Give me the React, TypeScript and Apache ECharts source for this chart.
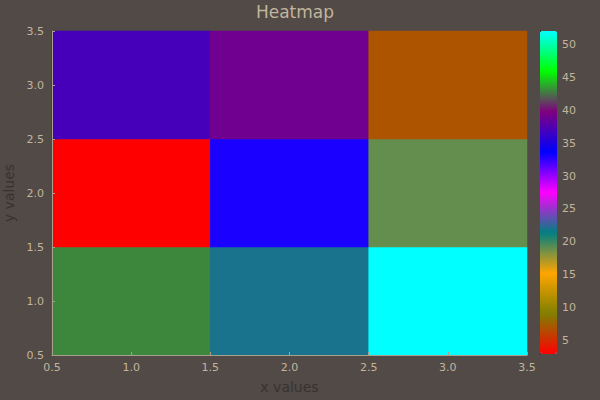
import React, { useEffect, useRef } from "react";
import * as echarts from "echarts";

const xCategories = ["1", "2", "3"];
const yCategories = ["1", "2", "3"];
// [xIndex, yIndex, value]
const cellValues: [number, number, number][] = [
  [0, 0, 43], [1, 0, 22], [2, 0, 52],
  [0, 1, 3], [1, 1, 33], [2, 1, 19],
  [0, 2, 37], [1, 2, 39], [2, 2, 7],
];
const colorStops = ["#ff0000", "#808000", "#ffa500", "#008080", "#ff00ff", "#0000ff", "#800080", "#00ff00", "#00ffff"];
const colorMin = 3;
const colorMax = 52;
const colorTicks = [5, 10, 15, 20, 25, 30, 35, 40, 45, 50];

const BG = "#514a47";
const TXT = "#c2b59c";
const AXNAME = "#38322f";
const FONT = "DejaVu Sans";

export default function App() {
  const ref = useRef<HTMLDivElement>(null);
  useEffect(() => {
    if (!ref.current) return;
    const chart = echarts.init(ref.current, null, { renderer: "svg" });
    const valueAxisCommon = {
      type: "value" as const,
      min: 0.5,
      max: 3.5,
      interval: 0.5,
      z: 10,
      splitLine: { show: false },
      axisLine: { show: true, lineStyle: { color: "#a89f8c", width: 1 } },
      axisTick: { show: true, inside: true, length: 3, lineStyle: { color: "#a89f8c" } },
      axisLabel: {
        color: TXT, fontSize: 11, fontFamily: FONT,
        showMinLabel: true, showMaxLabel: true,
        formatter: (v: number) => v.toFixed(1),
      },
      nameLocation: "middle" as const,
      nameTextStyle: { color: AXNAME, fontSize: 14, fontFamily: FONT },
    };
    chart.setOption({
      animation: false,
      backgroundColor: BG,
      title: {
        text: "Heatmap",
        left: 290,
        textAlign: "center",
        top: -2,
        textStyle: { color: TXT, fontSize: 17, fontWeight: "normal", fontFamily: FONT },
      },
      grid: [
        { left: 52, right: 73, top: 31, bottom: 45, containLabel: false, outerBoundsMode: "none" },
        { left: 540, width: 17, top: 31, height: 323, containLabel: false, outerBoundsMode: "none" },
      ],
      xAxis: [
        { ...valueAxisCommon, gridIndex: 0, name: "x values", nameGap: 25, axisLabel: { ...valueAxisCommon.axisLabel, margin: 7 } },
        { type: "category", gridIndex: 0, data: xCategories, show: false },
        { type: "value", gridIndex: 1, show: false, min: 0, max: 1 },
      ],
      yAxis: [
        { ...valueAxisCommon, gridIndex: 0, name: "y values", nameGap: 36, axisLabel: { ...valueAxisCommon.axisLabel, margin: 8 } },
        { type: "category", gridIndex: 0, data: yCategories, show: false },
        {
          type: "value",
          gridIndex: 1,
          position: "right",
          min: colorMin,
          max: colorMax,
          splitLine: { show: false },
          axisLine: { show: true, lineStyle: { color: "#1e1b1a", width: 1 } },
          axisTick: { show: true, inside: false, length: 4, lineStyle: { color: "#1e1b1a" }, customValues: colorTicks },
          axisLabel: { color: TXT, fontSize: 11, fontFamily: FONT, margin: 5, customValues: colorTicks },
        },
      ],
      visualMap: {
        type: "continuous",
        min: colorMin,
        max: colorMax,
        calculable: false,
        orient: "vertical",
        left: 540,
        top: 31,
        padding: 0,
        itemWidth: 17,
        itemHeight: 323,
        text: ["", ""],
        showLabel: false,
        seriesIndex: 0,
        inRange: { color: colorStops },
      },
      series: [
        {
          type: "heatmap",
          xAxisIndex: 1,
          yAxisIndex: 1,
          data: cellValues,
          itemStyle: { borderWidth: 0 },
          emphasis: { disabled: true },
        },
      ],
    });
    return () => chart.dispose();
  }, []);
  return <div ref={ref} style={{ width: 600, height: 400, position: "absolute", left: 0, top: 0 }} />;
}
